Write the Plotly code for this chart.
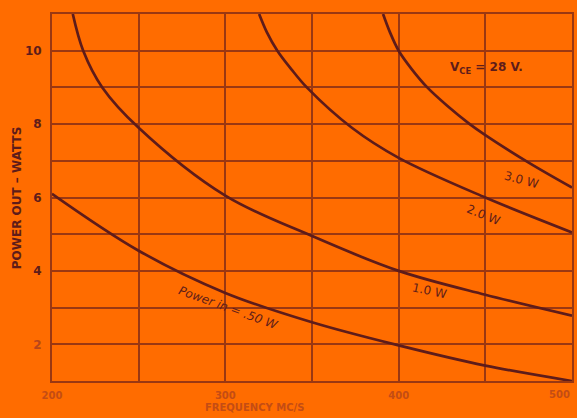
import plotly.graph_objects as go

# Output power versus frequency, VCE = 28 V, for four drive levels
freq_050 = [200, 250, 300, 350, 400, 450, 500]
pout_050 = [6.1, 4.55, 3.4, 2.6, 1.97, 1.42, 1.0]

freq_100 = [212, 218, 229, 250, 300, 350, 400, 450, 500]
pout_100 = [11.0, 10.0, 9.0, 7.9, 6.05, 4.95, 4.0, 3.35, 2.78]

freq_200 = [319.5, 324, 330, 338, 347, 373, 400, 450, 500]
pout_200 = [11.0, 10.5, 10.0, 9.5, 9.0, 7.9, 7.08, 6.0, 5.05]

freq_300 = [391, 395, 400, 407.5, 416.5, 428, 441, 450, 475, 500]
pout_300 = [11.0, 10.5, 10.0, 9.5, 9.0, 8.5, 8.0, 7.7, 6.95, 6.27]

x_ticks = [200, 250, 300, 350, 400, 450, 500]
x_labels = ["200", "", "300", "", "400", "", "500"]
y_ticks = list(range(1, 12))
y_labels = ["", "2", "", "4", "", "6", "", "8", "", "10", ""]

BG = "#ff6c00"
INK = "#5e1c1a"
GRID = "#9a3812"
FADED = "#c44c14"


def bold(t, color=None):
    if not t:
        return t
    if color:
        return f'<b><span style="color:{color}">{t}</span></b>'
    return f"<b>{t}</b>"


fig = go.Figure()
for fx, py in [(freq_050, pout_050), (freq_100, pout_100),
               (freq_200, pout_200), (freq_300, pout_300)]:
    fig.add_trace(go.Scatter(x=fx, y=py, mode="lines",
                             line=dict(color=INK, width=2.7, shape="spline", smoothing=1.0),
                             hoverinfo="skip", showlegend=False))

label_font = dict(family="DejaVu Sans", size=12, color=INK)
curve_labels = [
    (471, 6.48, "3.0 W", 15),
    (449, 5.52, "2.0 W", 22),
    (418, 3.45, "1.0 W", 12),
    (302, 2.99, "<i>Power in = .50 W</i>", 20),
]
for lx, ly, txt, ang in curve_labels:
    fig.add_annotation(x=lx, y=ly, text=txt, textangle=ang, showarrow=False,
                       font=label_font)

fig.add_annotation(x=450.6, y=9.53, showarrow=False,
                   text="<b>V<sub>CE</sub> = 28 V.</b>",
                   font=dict(family="DejaVu Sans", size=12, color=INK))

fig.add_annotation(xref="paper", yref="paper", x=-0.085, y=0.5, showarrow=False,
                   text="<b>POWER OUT – WATTS</b>", textangle=-90,
                   font=dict(family="DejaVu Sans", size=12, color=INK))
fig.add_annotation(xref="paper", yref="paper", x=0.39, y=-0.092, showarrow=False,
                   text="<b>FREQUENCY MC/S</b>",
                   font=dict(family="DejaVu Sans", size=10, color=FADED))

# the last frequency label sits flush against the right edge of the page
fig.add_annotation(x=x_ticks[-1], y=0, xref="x", yref="paper", yanchor="top",
                   xanchor="right", yshift=-6, showarrow=False, text=bold(x_labels[-1]),
                   font=dict(family="DejaVu Sans", size=10, color=FADED))

fig.update_xaxes(range=[200, 500], tickvals=x_ticks[:-1],
                 ticktext=[bold(t) for t in x_labels[:-1]],
                 showgrid=True, gridcolor=GRID, gridwidth=1.6,
                 showline=True, linecolor=GRID, linewidth=2, mirror=True,
                 zeroline=False, ticks="", ticklabelstandoff=4,
                 tickfont=dict(family="DejaVu Sans", size=10, color=FADED))
fig.update_yaxes(range=[1, 11], tickvals=y_ticks,
                 ticktext=[bold(t, "#b8461a" if t == "2" else None) for t in y_labels],
                 showgrid=True, gridcolor=GRID, gridwidth=1.6,
                 showline=True, linecolor=GRID, linewidth=2, mirror=True,
                 zeroline=False, ticks="", ticklabelstandoff=6,
                 tickfont=dict(family="DejaVu Sans", size=12, color=INK))

fig.update_layout(width=577, height=418,
                  margin=dict(l=52, r=3, t=14, b=37),
                  paper_bgcolor=BG, plot_bgcolor=BG)

fig.write_html("out.html")
